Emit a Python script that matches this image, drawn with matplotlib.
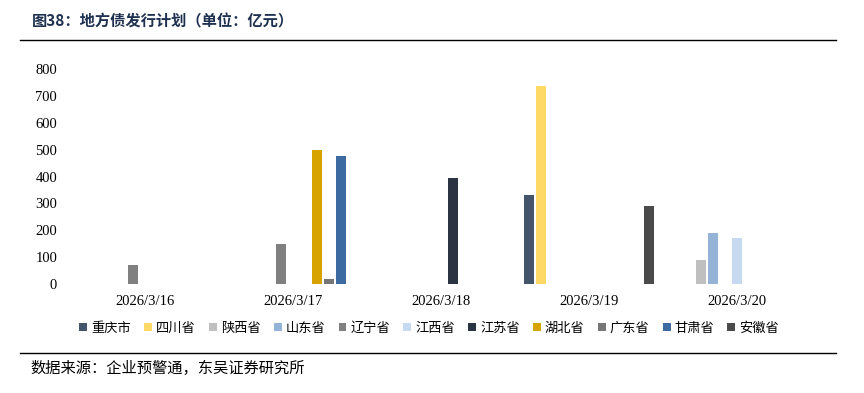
import matplotlib.pyplot as plt
import numpy as np

plt.rcParams['font.family'] = ['Liberation Serif', 'Noto Sans CJK SC']

dates = ['2026/3/16', '2026/3/17', '2026/3/18', '2026/3/19', '2026/3/20']
regions = ['重庆市', '四川省', '陕西省', '山东省', '辽宁省', '江西省',
           '江苏省', '湖北省', '广东省', '甘肃省', '安徽省']

chongqing = [0, 0, 0, 330, 0]
sichuan = [0, 0, 0, 735, 0]
shaanxi = [0, 0, 0, 0, 90]
shandong = [0, 0, 0, 0, 190]
liaoning = [72, 148, 0, 0, 0]
jiangxi = [0, 0, 0, 0, 170]
jiangsu = [0, 0, 395, 0, 0]
hubei = [0, 497, 0, 0, 0]
guangdong = [0, 20, 0, 0, 0]
gansu = [0, 478, 0, 0, 0]
anhui = [0, 0, 0, 292, 0]

series = [chongqing, sichuan, shaanxi, shandong, liaoning, jiangxi,
          jiangsu, hubei, guangdong, gansu, anhui]
colors = ['#44546A', '#FFD966', '#BFBFBF', '#95B3D7', '#808080', '#C6D9F1',
          '#2A3442', '#D6A300', '#767676', '#3D6AA0', '#4A4A4A']

fig = plt.figure(figsize=(8.64, 3.93), dpi=100)
ax = fig.add_axes([71 / 864, 1 - 284 / 393, 740 / 864, 215 / 393])

x = np.arange(len(dates))
slot = 12 / 148
width = 10 / 148
for i, (vals, c, name) in enumerate(zip(series, colors, regions)):
    ax.bar(x + (i - 5) * slot, vals, width, color=c, label=name)

ax.set_xlim(-0.5, 4.5)
ax.set_ylim(0, 800)
ax.set_yticks(range(0, 801, 100))
ax.set_xticks(x)
ax.set_xticklabels(dates)
for s in ax.spines.values():
    s.set_visible(False)
ax.tick_params(length=0, labelsize=10.5, colors='black')
ax.tick_params(axis='y', pad=10)
ax.tick_params(axis='x', pad=8)

ax.legend(loc='upper center', bbox_to_anchor=(0.484, -0.12), ncol=11, frameon=False,
          handlelength=0.6, handleheight=0.6, handletextpad=0.3, columnspacing=1.0,
          prop={'family': ['Noto Sans CJK SC'], 'size': 9.5})

fig.text(32 / 864, 1 - 21 / 393, '图38：地方债发行计划（单位：亿元）', fontsize=11, fontweight='bold',
         color='#1F3150', va='center', family=['Noto Sans CJK SC'])
fig.add_artist(plt.Line2D([20 / 864, 836 / 864], [1 - 40 / 393] * 2, color='black', lw=1))
fig.add_artist(plt.Line2D([20 / 864, 836 / 864], [1 - 353 / 393] * 2, color='black', lw=1))
fig.text(30 / 864, 1 - 368 / 393, '数据来源：企业预警通，东吴证券研究所', fontsize=11,
         color='black', va='center', family=['Noto Sans CJK SC'])

fig.savefig('out.png', dpi=100)
